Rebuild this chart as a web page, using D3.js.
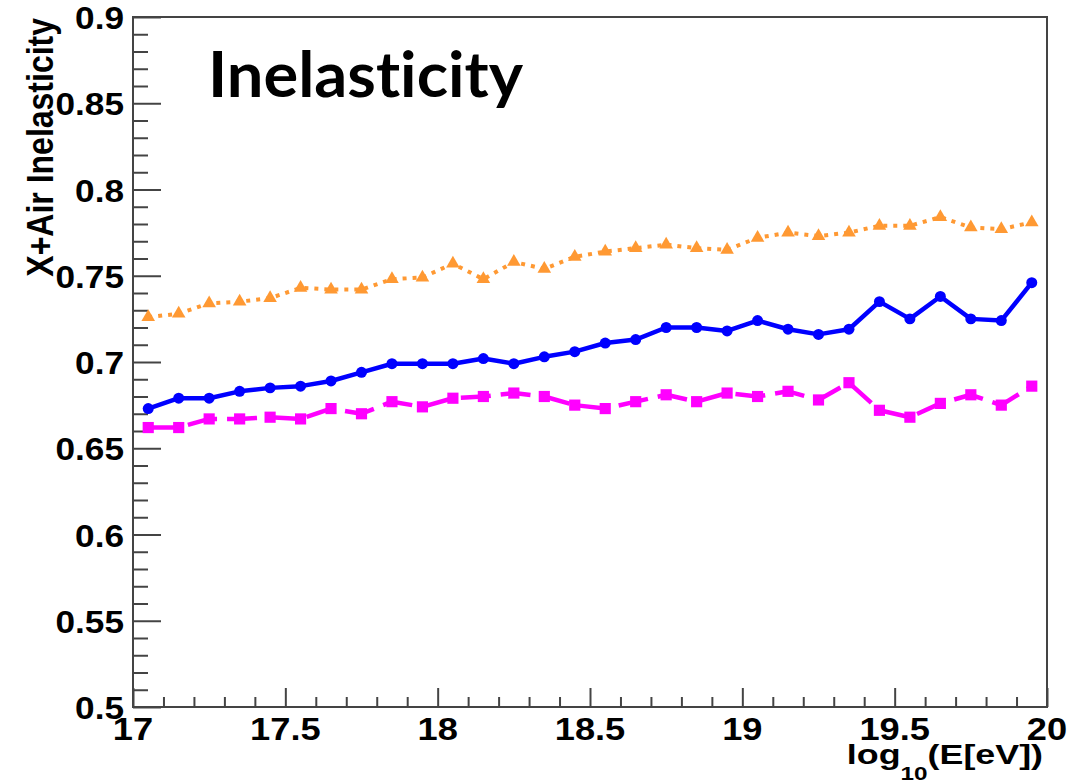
<!DOCTYPE html>
<html>
<head>
<meta charset="utf-8">
<script src="https://cdn.jsdelivr.net/npm/d3@7"></script>
<style>
  html, body { margin: 0; padding: 0; background: #ffffff; }
  svg { display: block; }
  text { font-variant-ligatures: none; }
</style>
</head>
<body>
<script>
// ---- data ----
const energy = [17.05, 17.15, 17.25, 17.35, 17.45, 17.55, 17.65, 17.75, 17.85, 17.95,
                18.05, 18.15, 18.25, 18.35, 18.45, 18.55, 18.65, 18.75, 18.85, 18.95,
                19.05, 19.15, 19.25, 19.35, 19.45, 19.55, 19.65, 19.75, 19.85, 19.95];
const blueValues = [0.673, 0.679, 0.679, 0.683, 0.685, 0.686, 0.689, 0.694, 0.699, 0.699,
                    0.699, 0.702, 0.699, 0.703, 0.706, 0.711, 0.713, 0.720, 0.720, 0.718,
                    0.724, 0.719, 0.716, 0.719, 0.735, 0.725, 0.738, 0.725, 0.724, 0.746];
const magentaValues = [0.662, 0.662, 0.667, 0.667, 0.668, 0.667, 0.673, 0.670, 0.677, 0.674,
                       0.679, 0.680, 0.682, 0.680, 0.675, 0.673, 0.677, 0.681, 0.677, 0.682,
                       0.680, 0.683, 0.678, 0.688, 0.672, 0.668, 0.676, 0.681, 0.675, 0.686];
const orangeValues = [0.726, 0.728, 0.734, 0.735, 0.737, 0.743, 0.742, 0.742, 0.748, 0.749,
                      0.757, 0.748, 0.758, 0.754, 0.761, 0.764, 0.766, 0.768, 0.766, 0.765,
                      0.772, 0.775, 0.773, 0.775, 0.779, 0.779, 0.784, 0.778, 0.777, 0.781];
const xTickValues = [17, 17.5, 18, 18.5, 19, 19.5, 20];
const xTickLabels = ["17", "17.5", "18", "18.5", "19", "19.5", "20"];
const yTickValues = [0.5, 0.55, 0.6, 0.65, 0.7, 0.75, 0.8, 0.85, 0.9];
const yTickLabels = ["0.5", "0.55", "0.6", "0.65", "0.7", "0.75", "0.8", "0.85", "0.9"];
const titleText = "Inelasticity";
const yTitle = "X+Air Inelasticity";

// ---- layout ----
const W = 1089, H = 783;
const pLeft = 133, pRight = 1047, pTop = 17, pBottom = 707;
const svg = d3.select("body").append("svg").attr("width", W).attr("height", H);
svg.append("rect").attr("width", W).attr("height", H).attr("fill", "#fff");

const x = d3.scaleLinear().domain([17, 20]).range([pLeft, pRight]);
const y = d3.scaleLinear().domain([0.5, 0.9]).range([pBottom, pTop]);

const axisColor = "#444";
const FONT = "'Liberation Sans', Arial, Helvetica, sans-serif";

// minor ticks
const xMinor = d3.range(17, 20.0001, 0.1).map(v => +v.toFixed(2)).filter(v => !xTickValues.some(t => Math.abs(t - v) < 1e-6));
const yMinor = d3.range(0.5, 0.9001, 0.01).map(v => +v.toFixed(3)).filter(v => !yTickValues.some(t => Math.abs(t - v) < 1e-6));

// x axis (ticks pointing into the plot)
const gx = svg.append("g").attr("transform", `translate(0,${pBottom})`);
gx.call(d3.axisBottom(x).tickValues(xTickValues).tickSize(-19).tickFormat(""));
gx.append("g").call(d3.axisBottom(x).tickValues(xMinor).tickSize(-10).tickFormat(""));
gx.selectAll("path.domain").remove();
gx.selectAll("line").attr("stroke", axisColor).attr("stroke-width", 2);

const gy = svg.append("g").attr("transform", `translate(${pLeft},0)`);
gy.call(d3.axisLeft(y).tickValues(yTickValues).tickSize(-28).tickFormat(""));
gy.append("g").call(d3.axisLeft(y).tickValues(yMinor).tickSize(-15).tickFormat(""));
gy.selectAll("path.domain").remove();
gy.selectAll("line").attr("stroke", axisColor).attr("stroke-width", 2);

// frame
svg.append("rect")
  .attr("x", pLeft).attr("y", pTop)
  .attr("width", pRight - pLeft).attr("height", pBottom - pTop)
  .attr("fill", "none").attr("stroke", axisColor).attr("stroke-width", 2);

// tick labels
svg.append("g").selectAll("text").data(xTickValues).join("text")
  .attr("transform", d => `translate(${x(d)},740) scale(1.17,1)`)
  .attr("text-anchor", "middle")
  .attr("font-family", FONT).attr("font-weight", "bold").attr("font-size", 31)
  .attr("fill", "#000")
  .text((d, i) => xTickLabels[i]);

svg.append("g").selectAll("text").data(yTickValues).join("text")
  .attr("transform", d => `translate(124,${y(d) + 12}) scale(1.1,1)`)
  .attr("text-anchor", "end")
  .attr("font-family", FONT).attr("font-weight", "bold").attr("font-size", 32)
  .attr("fill", "#000")
  .text((d, i) => yTickLabels[i]);

// axis titles
const xt = svg.append("text")
  .attr("transform", "translate(1043,764) scale(1.28,1)")
  .attr("text-anchor", "end")
  .attr("font-family", FONT).attr("font-weight", "bold").attr("font-size", 28)
  .attr("fill", "#000");
xt.append("tspan").text("log");
xt.append("tspan").attr("dy", 16).attr("font-size", 19).text("10");
xt.append("tspan").attr("dy", -16).text("(E[eV])");

svg.append("text")
  .attr("transform", "translate(53,18) scale(1.15,1) rotate(-90)")
  .attr("text-anchor", "end")
  .attr("font-family", FONT).attr("font-weight", "bold").attr("font-size", 32)
  .attr("fill", "#000")
  .text(yTitle);

// title
svg.append("text")
  .attr("x", 208).attr("y", 97)
  .attr("font-family", "Lato, 'Open Sans', sans-serif").attr("font-weight", "bold").attr("font-size", 63)
  .attr("textLength", 315).attr("lengthAdjust", "spacingAndGlyphs")
  .style("font-variant-ligatures", "none")
  .attr("fill", "#000")
  .text(titleText);

// ---- series ----
const series = [
  { name: "orange", values: orangeValues, color: "#ff9933", dash: "4,6", marker: "triangle", width: 4 },
  { name: "blue", values: blueValues, color: "#0000ff", dash: null, marker: "circle", width: 4.5 },
  { name: "magenta", values: magentaValues, color: "#ff00ff", dash: "30,10", marker: "square", width: 4.5 }
];

const line = d3.line().x(d => x(d[0])).y(d => y(d[1]));

series.forEach(s => {
  const pts = energy.map((e, i) => [e, s.values[i]]);
  svg.append("path")
    .datum(pts)
    .attr("d", line)
    .attr("fill", "none")
    .attr("stroke", s.color)
    .attr("stroke-width", s.width)
    .attr("stroke-dasharray", s.dash)
    .attr("stroke-linejoin", "round");
  const symType = s.marker === "circle" ? d3.symbolCircle : s.marker === "square" ? d3.symbolSquare : d3.symbolTriangle;
  const size = s.marker === "circle" ? 95 : s.marker === "square" ? 125 : 80;
  svg.append("g").selectAll("path").data(pts).join("path")
    .attr("transform", d => `translate(${x(d[0])},${y(d[1])})`)
    .attr("d", d3.symbol().type(symType).size(size))
    .attr("fill", s.color);
});
</script>
</body>
</html>
